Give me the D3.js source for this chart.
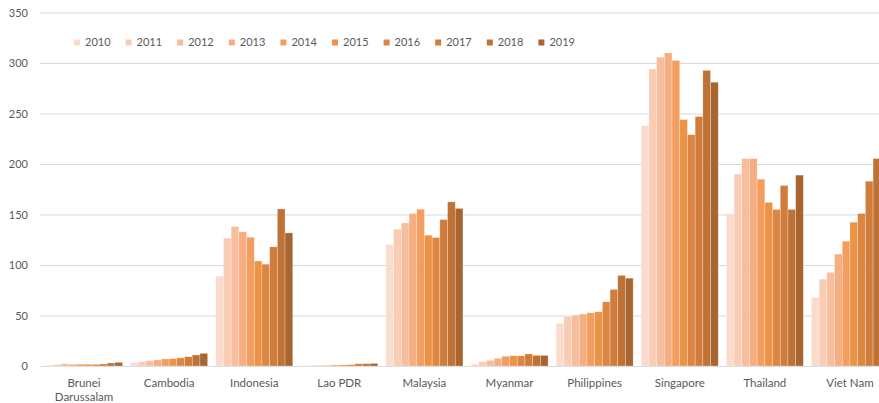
<!DOCTYPE html>
<html>
<head>
<meta charset="utf-8">
<script src="https://cdn.jsdelivr.net/npm/d3@7"></script>
<style>
  body { margin: 0; background: #fff; }
  svg { display: block; font-family: Lato, "Open Sans", sans-serif; }
</style>
</head>
<body>
<svg id="chart" width="879" height="403"></svg>
<script>
const countries = ["Brunei Darussalam", "Cambodia", "Indonesia", "Lao PDR", "Malaysia",
    "Myanmar", "Philippines", "Singapore", "Thailand", "Viet Nam"];
const years = ["2010", "2011", "2012", "2013", "2014", "2015", "2016", "2017", "2018", "2019"];

// one array per country, 2010..2019
const brunei      = [1.0, 1.5, 2.3, 1.8, 1.8, 1.8, 1.7, 2.0, 3.0, 3.6];
const cambodia    = [3.5, 4.3, 5.3, 6.0, 7.0, 7.3, 8.0, 9.2, 10.9, 12.5];
const indonesia   = [89, 126.6, 138, 132.8, 127.5, 104, 100.8, 118, 155.5, 131.8];
const lao         = [0.3, 0.5, 0.7, 0.8, 1.0, 1.2, 1.4, 2.2, 2.3, 2.5];
const malaysia    = [120.3, 135.5, 141.7, 151, 155.2, 129.5, 127.2, 145, 162.5, 156];
const myanmar     = [2.0, 4.3, 5.6, 7.6, 9.6, 10.2, 10.0, 11.9, 10.5, 10.5];
const philippines = [42.2, 48.8, 50.4, 51.4, 52.7, 53.7, 63.6, 75.8, 89.7, 87];
const singapore   = [238, 294, 305.8, 310, 302.5, 244, 229, 247, 292.7, 281];
const thailand    = [151, 190, 205.4, 205.4, 185, 162, 155, 178.7, 155, 189];
const vietnam     = [68, 86, 92.7, 110.8, 123.6, 142.4, 151, 183, 205.4, 220];

const values = [brunei, cambodia, indonesia, lao, malaysia, myanmar, philippines, singapore, thailand, vietnam];

const yTicks = [0, 50, 100, 150, 200, 250, 300, 350];
const colors = ["#fadbcc", "#f9ccb4", "#f8bd9c", "#f5ad82", "#f39d5f",
    "#ed9347", "#dd8642", "#d07d3c", "#bf7236", "#a8652f"];

const svg = d3.select("#chart");

const x = d3.scaleBand()
    .domain(countries)
    .range([41.5, 892.5])
    .paddingInner(0.095)
    .paddingOuter(0.0475);

const xYear = d3.scaleBand()
    .domain(years)
    .range([0, x.bandwidth()]);

const y = d3.scaleLinear()
    .domain([0, 350])
    .range([366, 12.5]);

const color = d3.scaleOrdinal().domain(years).range(colors);

// gridlines + y labels
const yAxis = svg.append("g")
    .attr("transform", "translate(40,0)")
    .call(d3.axisLeft(y).tickValues(yTicks).tickSize(-839).tickPadding(12));
yAxis.select(".domain").remove();
yAxis.selectAll(".tick line").attr("stroke", "#d9d9d9").attr("stroke-width", 1);
yAxis.selectAll(".tick text")
    .attr("fill", "#595959")
    .style("font-size", "11px")
    .style("font-family", "Lato, sans-serif");

// bars
const groups = svg.append("g")
    .selectAll("g")
    .data(countries)
    .join("g")
    .attr("transform", d => `translate(${x(d)},0)`);

groups.selectAll("rect")
    .data((c, i) => years.map((yr, j) => ({ year: yr, value: values[i][j] })))
    .join("rect")
    .attr("x", d => xYear(d.year))
    .attr("width", xYear.bandwidth())
    .attr("y", d => y(d.value))
    .attr("height", d => y(0) - y(d.value))
    .attr("fill", d => color(d.year))
    .attr("stroke", "#ffffff")
    .attr("stroke-opacity", 0.45)
    .attr("stroke-width", 0.6);

// category labels
const labels = svg.append("g")
    .selectAll("text")
    .data(countries)
    .join("text")
    .attr("x", d => x(d) + x.bandwidth() / 2)
    .attr("y", 387)
    .attr("text-anchor", "middle")
    .attr("fill", "#595959")
    .style("font-size", "11.5px");

labels.each(function (d) {
    const words = d === "Brunei Darussalam" ? ["Brunei", "Darussalam"] : [d];
    d3.select(this).selectAll("tspan")
        .data(words)
        .join("tspan")
        .attr("x", x(d) + x.bandwidth() / 2)
        .attr("dy", (w, i) => i === 0 ? 0 : 14)
        .text(w => w);
});

// legend
const legend = svg.append("g")
    .selectAll("g")
    .data(years)
    .join("g")
    .attr("transform", (d, i) => `translate(${74 + i * 51.6},0)`);

legend.append("rect")
    .attr("x", 0)
    .attr("y", 39.5)
    .attr("width", 6)
    .attr("height", 6)
    .attr("fill", d => color(d));

legend.append("text")
    .attr("x", 11)
    .attr("y", 45.5)
    .attr("fill", "#595959")
    .style("font-size", "11px")
    .text(d => d);
</script>
</body>
</html>
